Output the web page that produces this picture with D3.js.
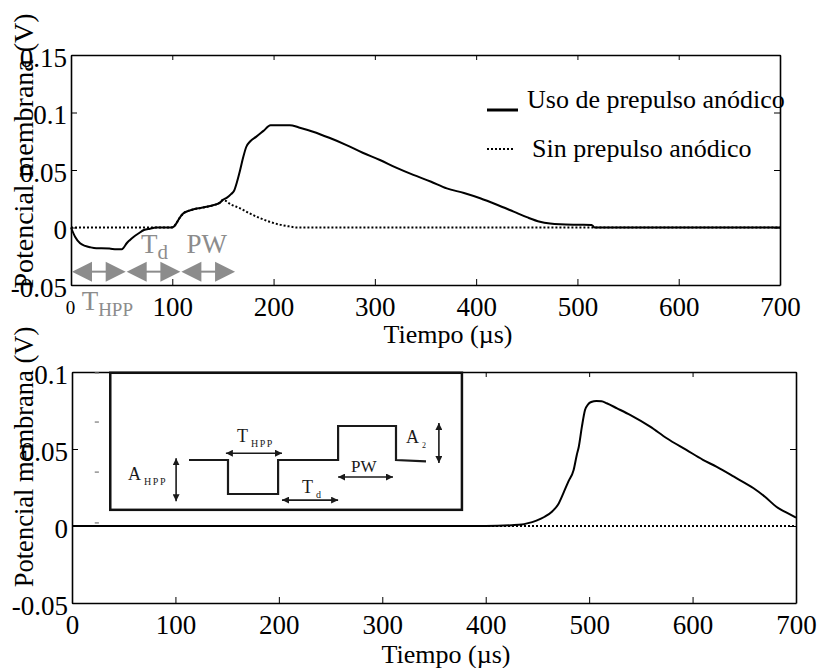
<!DOCTYPE html>
<html>
<head>
<meta charset="utf-8">
<script src="https://cdn.jsdelivr.net/npm/d3@7"></script>
<style>
  body { margin: 0; background: #fff; }
</style>
</head>
<body>
<svg id="fig" width="818" height="668" style="font-family: 'Liberation Serif'"></svg>
<script>
// Datos
var tiempoTicks = [0, 100, 200, 300, 400, 500, 600, 700];
var vTicksArriba = [-0.05, 0, 0.05, 0.1, 0.15];
var vTicksAbajo = [-0.05, 0, 0.05, 0.1];

// Panel superior: con prepulso anódico (línea continua)
var tArribaCon = [0, 4, 9, 14, 19, 25, 30, 38, 45, 50, 52, 55, 58, 62, 67, 72, 78, 84, 90, 96, 101, 104, 107, 111, 116, 121, 128, 134, 141, 147, 150, 154, 158, 161, 164, 167, 170, 173, 177, 183, 190, 197, 205, 216, 225, 239, 255, 272, 288, 305, 321, 338, 355, 371, 388, 404, 420, 437, 450, 463, 473, 483, 500, 514, 517, 540, 600, 650, 700];
var vArribaCon = [0, -0.008, -0.0137, -0.016, -0.0172, -0.018, -0.018, -0.0183, -0.019, -0.019, -0.0175, -0.0137, -0.011, -0.008, -0.005, -0.0022, -0.001, 0, 0, 0, 0.0005, 0.0036, 0.008, 0.0123, 0.0145, 0.0158, 0.017, 0.018, 0.0195, 0.0216, 0.024, 0.026, 0.029, 0.032, 0.04, 0.05, 0.061, 0.07, 0.075, 0.079, 0.084, 0.089, 0.089, 0.089, 0.087, 0.0833, 0.078, 0.0717, 0.065, 0.0587, 0.052, 0.0457, 0.04, 0.034, 0.03, 0.0254, 0.02, 0.0138, 0.009, 0.005, 0.0035, 0.0028, 0.0024, 0.0022, 0, 0, 0, 0, 0];

// Panel superior: sin prepulso anódico (línea punteada)
var tArribaSin = [0, 100, 104, 107, 111, 116, 121, 128, 134, 141, 147, 150, 158, 167, 177, 187, 196, 206, 215, 223, 300, 400, 500, 600, 700];
var vArribaSin = [0, 0, 0.0036, 0.008, 0.0123, 0.0145, 0.0158, 0.017, 0.018, 0.0195, 0.0216, 0.024, 0.02, 0.0167, 0.012, 0.008, 0.005, 0.0025, 0.001, 0, 0, 0, 0, 0, 0];

// Panel inferior
var tAbajoCon = [0, 100, 200, 300, 400, 425, 435, 440, 449, 457, 464, 470, 475, 480, 485, 488, 490, 493, 496, 499, 502, 507, 512, 517, 527, 540, 559, 575, 594, 610, 623, 640, 659, 670, 681, 690, 700];
var vAbajoCon = [0, 0, 0, 0, 0, 0.0005, 0.001, 0.0017, 0.0035, 0.006, 0.0093, 0.014, 0.0212, 0.029, 0.0364, 0.046, 0.0515, 0.0645, 0.0753, 0.079, 0.0805, 0.0812, 0.081, 0.0797, 0.0764, 0.072, 0.0645, 0.057, 0.0494, 0.043, 0.0385, 0.032, 0.0245, 0.019, 0.0125, 0.009, 0.0054];
var tAbajoSin = [0, 700];
var vAbajoSin = [0, 0];

// Flechas grises del panel superior (intervalos en µs)
var flechasIni = [0, 54, 108];
var flechasFin = [54, 108, 162];

// Marcas sueltas dentro del panel inferior
var marcasSueltas = [0.0994, 0.0675, 0.035, 0.002];

// Esquema del pulso (unidades del esquema)
var pulsoT = [0, 1.3, 1.3, 2.97, 2.97, 4.97, 4.97, 6.9, 6.9, 7.9];
var pulsoA = [0, 0, -1, -1, 0, 0, 1, 1, 0, -0.04];

var FUENTE = "'Liberation Serif'";
var svg = d3.select("#fig");
var negro = "#000";
var gris = "#8c8c8c";

function zip(ts, vs) { return ts.map(function(t, i) { return [t, vs[i]]; }); }

// etiquetas del eje y con guion simple, como en la figura
function formatoV(d) { return d === 0 ? "0" : String(+d.toFixed(2)); }

// Dibuja un panel con ejes y marco
function panel(x, y, xTicks, yTicks) {
    var g = svg.append("g");
    var x0 = x.range()[0], x1 = x.range()[1], y0 = y.range()[0], y1 = y.range()[1];

    var ax = g.append("g").attr("transform", "translate(0," + y0 + ")")
        .call(d3.axisBottom(x).tickValues(xTicks).tickFormat(d3.format("d"))
            .tickSizeInner(-6).tickSizeOuter(0).tickPadding(10));
    var ay = g.append("g").attr("transform", "translate(" + x0 + ",0)")
        .call(d3.axisLeft(y).tickValues(yTicks).tickFormat(formatoV)
            .tickSizeInner(-6).tickSizeOuter(0).tickPadding(4));
    g.append("g").attr("transform", "translate(0," + y1 + ")")
        .call(d3.axisTop(x).tickValues(xTicks).tickFormat("").tickSizeInner(-5).tickSizeOuter(0));
    g.append("g").attr("transform", "translate(" + x1 + ",0)")
        .call(d3.axisRight(y).tickValues(yTicks).tickFormat("").tickSizeInner(-6).tickSizeOuter(0));

    g.selectAll("g").attr("font-family", FUENTE);
    g.selectAll(".domain").attr("stroke", negro).attr("stroke-width", 1.6);
    g.selectAll(".tick line").attr("stroke", negro).attr("stroke-width", 1);
    g.selectAll(".tick text").attr("fill", negro)
        .style("font-family", FUENTE).style("font-size", "27px");
    ax.selectAll(".tick text").attr("dy", "0.78em");
    ay.selectAll(".tick text").attr("dy", "0.42em");
    return { g: g, ax: ax, ay: ay };
}

function curvas(g, x, y, conT, conV, sinT, sinV) {
    var linea = d3.line().x(function(d) { return x(d[0]); }).y(function(d) { return y(d[1]); })
        .curve(d3.curveMonotoneX);
    g.append("path").datum(zip(sinT, sinV)).attr("d", linea)
        .attr("fill", "none").attr("stroke", negro).attr("stroke-width", 2).attr("stroke-dasharray", "2,2");
    g.append("path").datum(zip(conT, conV)).attr("d", linea)
        .attr("fill", "none").attr("stroke", negro).attr("stroke-width", 2);
}

function texto(sel) {
    return sel.append("text").style("font-family", FUENTE);
}

function tituloY(cx, cy, size) {
    texto(svg).attr("transform", "translate(" + cx + "," + cy + ") rotate(-90)")
        .attr("text-anchor", "middle").style("font-size", size + "px").attr("fill", negro)
        .text("Potencial membrana (V)");
}

function tituloX(cx, cy) {
    texto(svg).attr("x", cx).attr("y", cy).attr("text-anchor", "middle")
        .style("font-size", "26px").attr("fill", negro).text("Tiempo (µs)");
}

// ---------- Panel superior ----------
var xA = d3.scaleLinear().domain([0, 700]).range([71, 780]);
var yA = d3.scaleLinear().domain([-0.05, 0.15]).range([285, 55]);
var pA = panel(xA, yA, tiempoTicks, vTicksArriba);
curvas(pA.g, xA, yA, tArribaCon, vArribaCon, tArribaSin, vArribaSin);

// el "0" del eje x va más pequeño
pA.ax.selectAll(".tick text").filter(function(d) { return d === 0; })
    .style("font-size", "19px").attr("x", -1).attr("dy", "1.0em");

// flechas grises de doble punta
var yFlecha = yA(-0.0384);
flechasIni.forEach(function(t0, i) {
    var a = xA(t0) + 1, b = xA(flechasFin[i]);
    pA.g.append("line").attr("x1", a + 18).attr("x2", b - 18).attr("y1", yFlecha).attr("y2", yFlecha)
        .attr("stroke", gris).attr("stroke-width", 2);
    pA.g.append("path").attr("d", "M" + a + "," + yFlecha + "l20,-10v20z").attr("fill", gris);
    pA.g.append("path").attr("d", "M" + b + "," + yFlecha + "l-20,-10v20z").attr("fill", gris);
});

function etiquetaGris(t, v, main, sub, subSize) {
    var tx = texto(pA.g).attr("x", xA(t)).attr("y", yA(v)).attr("fill", gris)
        .style("font-size", "27px").text(main);
    if (sub) tx.append("tspan").attr("dy", 6).style("font-size", subSize + "px").text(sub);
}
etiquetaGris(69, -0.022, "T", "d", 21);
etiquetaGris(114, -0.022, "PW", null);
etiquetaGris(10.5, -0.0715, "T", "HPP", 19);

// leyenda
var ley = pA.g.append("g");
ley.append("line").attr("x1", 487).attr("x2", 518).attr("y1", 110).attr("y2", 110)
    .attr("stroke", negro).attr("stroke-width", 3);
texto(ley).attr("x", 527).attr("y", 108).style("font-size", "26px").attr("fill", negro)
    .text("Uso de prepulso anódico");
ley.append("line").attr("x1", 487).attr("x2", 515).attr("y1", 149).attr("y2", 149)
    .attr("stroke", negro).attr("stroke-width", 2).attr("stroke-dasharray", "2,2");
texto(ley).attr("x", 532).attr("y", 157).style("font-size", "26px").attr("fill", negro)
    .text("Sin prepulso anódico");

tituloX(448, 343);
tituloY(33, 151, 28);

// ---------- Panel inferior ----------
var xB = d3.scaleLinear().domain([0, 700]).range([72, 796]);
var yB = d3.scaleLinear().domain([-0.05, 0.1]).range([603, 372]);
var pB = panel(xB, yB, tiempoTicks, vTicksAbajo);
curvas(pB.g, xB, yB, tAbajoCon, vAbajoCon, tAbajoSin, vAbajoSin);

marcasSueltas.forEach(function(v) {
    pB.g.append("line").attr("x1", xB(22)).attr("x2", xB(26)).attr("y1", yB(v)).attr("y2", yB(v))
        .attr("stroke", "#777").attr("stroke-width", 1.2);
});

// recuadro con el esquema del pulso
var ins = pB.g.append("g");
ins.append("rect").attr("x", xB(37)).attr("y", yB(0.0995))
    .attr("width", xB(377) - xB(37)).attr("height", yB(0.0105) - yB(0.0995))
    .attr("fill", "#fff").attr("stroke", "#111").attr("stroke-width", 2.5);

var ix = d3.scaleLinear().domain([0, 8]).range([189, 429]);
var iy = d3.scaleLinear().domain([-1, 1]).range([494, 426]);
ins.append("path").datum(zip(pulsoT, pulsoA))
    .attr("d", d3.line().x(function(d) { return ix(d[0]); }).y(function(d) { return iy(d[1]); }))
    .attr("fill", "none").attr("stroke", "#1a1a1a").attr("stroke-width", 2.2);

svg.append("defs").append("marker").attr("id", "punta").attr("viewBox", "0 0 10 10")
    .attr("refX", 10).attr("refY", 5).attr("markerWidth", 7).attr("markerHeight", 7)
    .attr("markerUnits", "userSpaceOnUse").attr("orient", "auto-start-reverse")
    .append("path").attr("d", "M0,0L10,5L0,10z").attr("fill", "#1a1a1a");

function flechaIns(t1, a1, t2, a2) {
    ins.append("line").attr("x1", ix(t1)).attr("y1", iy(a1)).attr("x2", ix(t2)).attr("y2", iy(a2))
        .attr("stroke", "#1a1a1a").attr("stroke-width", 1.6)
        .attr("marker-start", "url(#punta)").attr("marker-end", "url(#punta)");
}
flechaIns(-0.43, 0.05, -0.43, -1.21);
flechaIns(1.23, 0.2, 3.1, 0.2);
flechaIns(3.1, -1.18, 4.97, -1.18);
flechaIns(4.97, -0.5, 6.8, -0.5);
flechaIns(8.33, 1.09, 8.33, -0.09);

function etiquetaIns(t, a, main, sub, size, subSize, sep) {
    var tx = texto(ins).attr("x", ix(t)).attr("y", iy(a)).attr("fill", "#1a1a1a")
        .style("font-size", size + "px").text(main);
    if (sub) tx.append("tspan").attr("dx", 3).attr("dy", 5).style("font-size", subSize + "px")
        .style("letter-spacing", sep + "px").text(sub);
}
etiquetaIns(-2.03, -0.59, "A", "HPP", 18, 10, 1.5);
etiquetaIns(1.6, 0.53, "T", "HPP", 18, 10, 1.5);
etiquetaIns(3.77, -0.97, "T", "d", 18, 10, 0);
etiquetaIns(5.4, -0.35, "PW", null, 17);
etiquetaIns(7.23, 0.5, "A", "2", 18, 8, 0);

tituloX(446, 663);
tituloY(33, 457, 26.5);
</script>
</body>
</html>
